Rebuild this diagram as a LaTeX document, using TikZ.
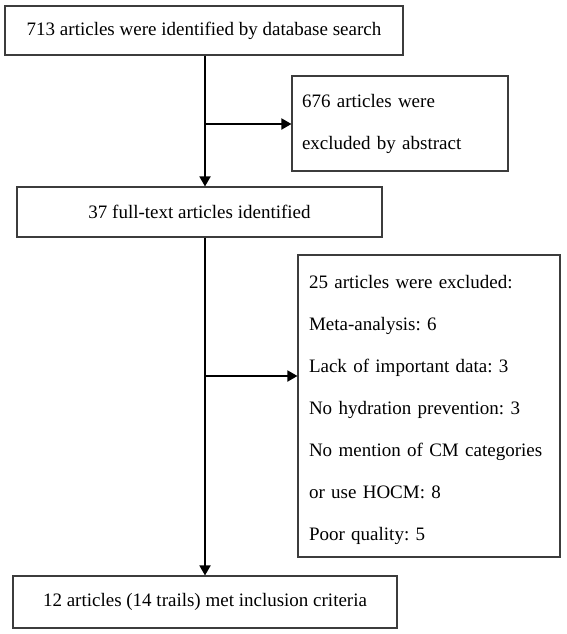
\documentclass[tikz,border=0pt]{standalone}
\usepackage{fontspec}
\setmainfont{Liberation Serif}
\usetikzlibrary{arrows.meta}
\definecolor{bord}{RGB}{60,60,60}
\frenchspacing
\begin{document}
\begin{tikzpicture}[x=1pt,y=-1pt,
  box/.style={draw=bord, line width=1.1pt, rectangle, inner sep=0pt,
    font=\fontsize{19}{42}\selectfont\frenchspacing},
  flowarr/.style={draw=black, line width=1.8pt,
    -{Triangle[length=10pt,width=11pt]}}]
\useasboundingbox (0,0) rectangle (566,634);
\node[box, minimum width=398pt, minimum height=49pt] (b1) at (204,30.5)
  {713 articles were identified by database search};
\node[box, minimum width=216pt, minimum height=95pt, text width=196pt,
  inner xsep=10pt, align=left] (b2) at (400,123.5)
  {676 articles were\\excluded by abstract};
\node[box, minimum width=365pt, minimum height=50pt] (b3) at (199.5,212)
  {37 full-text articles identified};
\node[box, minimum width=262pt, minimum height=302pt, text width=240pt,
  inner xsep=11pt, align=left] (b4) at (429,406)
  {\rule{0pt}{21pt}25 articles were excluded:\\
   Meta-analysis: 6\\
   Lack of important data: 3\\
   No hydration prevention: 3\\
   \makebox[240pt][s]{No mention of CM categories}\\
   or use HOCM: 8\\
   Poor quality: 5};
\node[box, minimum width=384pt, minimum height=52pt] (b5) at (205,602)
  {12 articles (14 trails) met inclusion criteria};
\coordinate (j1) at (205,124);
\coordinate (j2) at (205,376);
\draw[flowarr] (b1.south -| j1) -- (b3.north -| j1);
\draw[flowarr] (j1) -- (j1 -| b2.west);
\draw[flowarr] (b3.south -| j2) -- (b5.north -| j2);
\draw[flowarr] (j2) -- (j2 -| b4.west);
\end{tikzpicture}
\end{document}
